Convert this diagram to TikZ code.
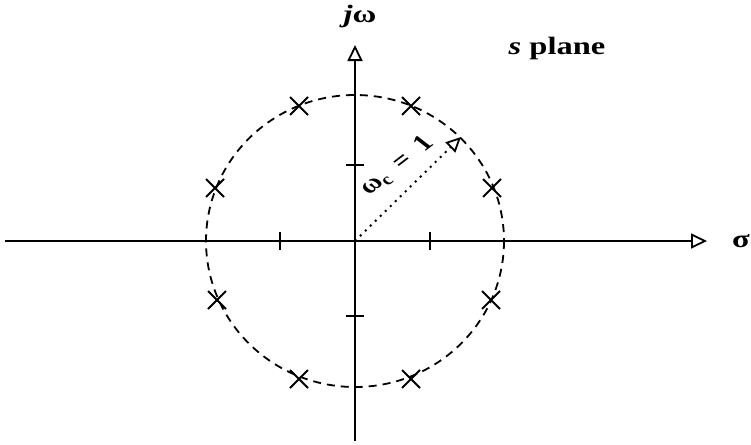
\documentclass[tikz,border=0pt]{standalone}
\usepackage{fontspec}
\setmainfont{Liberation Serif}
\usetikzlibrary{arrows.meta}
\tikzset{
  axis/.style={line width=1.8pt, -{Triangle[open, length=16pt, width=15pt, line width=1.8pt]}},
  tickmark/.style={line width=1.8pt},
  polemark/.style={line width=2pt},
  lbl/.style={font=\bfseries\fontsize{25}{25}\selectfont, inner sep=0pt, xscale=1.3, transform shape},
}
\begin{document}
\begin{tikzpicture}[x=1pt,y=-1pt]
\useasboundingbox (0,0) rectangle (751,444);
\coordinate (O) at (355,241);
\coordinate (xl) at (5,241);
\coordinate (xr) at (707,241);
\coordinate (yb) at (355,441);
\coordinate (yt) at (355,45);
\coordinate (tip) at (461,137);
\draw[axis] (xl) -- (xr);
\draw[axis] (yb) -- (yt);
% ticks
\foreach \x in {280,430} \draw[tickmark] (\x,232) -- (\x,250);
\foreach \y in {165,316} \draw[tickmark] (346,\y) -- (364,\y);
% dashed circle
\draw[line width=1.8pt, dash pattern=on 8pt off 6pt] (O) ellipse [x radius=149, y radius=146];
% poles
\foreach \px/\py in {299/106, 411/106, 215/188, 492/188, 217/300, 491/300, 299/379, 411/379}
  \draw[polemark] (\px-9,\py-9) -- (\px+9,\py+9) (\px-9,\py+9) -- (\px+9,\py-9);
% radius
\draw[line width=2pt, dash pattern=on 2pt off 5pt, -{Triangle[open, length=15pt, width=14pt, line width=1.8pt, sep=0pt]}] (O) -- (tip);
\node[lbl, rotate=45, font=\bfseries\fontsize{23}{23}\selectfont, xscale=1] (wc) at (397,166) {ω$_{\mathbf c}$\enspace=\enspace1};
\node[lbl] (jw) at (360,16) {\textit{j}ω};
\node[lbl] (sp) at (557,48) {\textit{s} plane};
\node[lbl] (sig) at (741,241) {σ};
\end{tikzpicture}
\end{document}
